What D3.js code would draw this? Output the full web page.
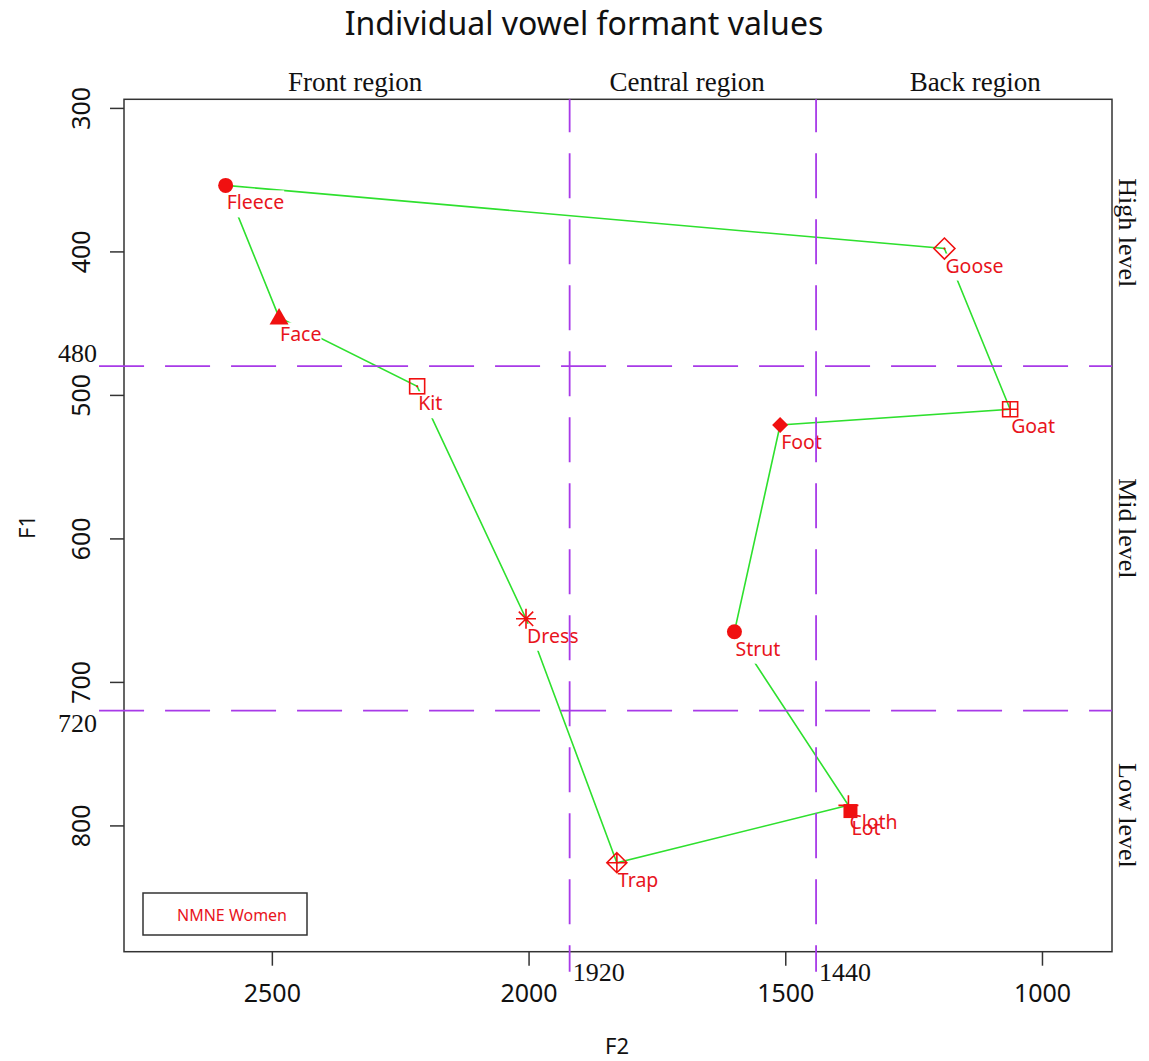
<!DOCTYPE html>
<html><head><meta charset="utf-8">
<script src="https://cdn.jsdelivr.net/npm/d3@7"></script>
<style>body{margin:0;background:#fff}</style>
</head><body>
<svg id="chart" width="1149" height="1061"></svg>
<script>
// ---- data ----
const vowels   = ["Fleece","Face","Kit","Dress","Trap","Cloth","Lot","Strut","Foot","Goat","Goose"];
const f2Values = [2590, 2486, 2217, 2005, 1828, 1377, 1373, 1599, 1510, 1062, 1190];
const f1Values = [354, 446, 494, 656, 826, 786, 790, 665, 521, 510, 398];
const markers  = ["circle","triangle","squareDot","asterisk","diamondPlus","plus","squareFilled","circle","diamondFilled","squarePlus","diamondDot"];
const pathOrder = ["Fleece","Face","Kit","Dress","Trap","Cloth","Strut","Foot","Goat","Goose","Fleece"];
const xTicks = [2500, 2000, 1500, 1000];
const yTicks = [300, 400, 500, 600, 700, 800];
const f2Bounds = [1920, 1440];
const f1Bounds = [480, 720];
const regionNames = ["Front region","Central region","Back region"];
const regionF2 = [2338, 1691, 1130];
const levelNames = ["High level","Mid level","Low level"];
const levelF1 = [387, 593, 793];
const legendLabel = "NMNE Women";
const titleText = "Individual vowel formant values";

// ---- setup ----
const svg = d3.select("#chart");
const L = 124, R = 1112, T = 99.3, B = 951.7;
const x = d3.scaleLinear().domain([2788, 863.6]).range([L, R]);
const y = d3.scaleLinear().domain([294, 888]).range([T, B]);
const RED = "#f01010", TXTRED = "#e8141c", GREEN = "#2ee02e", PURPLE = "#a83ae8";
const SANS = "'Noto Sans', 'Open Sans', sans-serif";
const SERIF = "'Liberation Serif', 'DejaVu Serif', serif";

const pts = vowels.map((v,i)=>({name:v, f2:f2Values[i], f1:f1Values[i], m:markers[i]}));
const byName = Object.fromEntries(pts.map(p=>[p.name,p]));

// title
svg.append("text").attr("x", 584).attr("y", 35).attr("text-anchor","middle")
  .style("font-family", SANS).style("font-size","32px").attr("fill","#111").text(titleText);

// axes
const xAxis = svg.append("g").attr("transform",`translate(0,${B})`)
  .call(d3.axisBottom(x).tickValues(xTicks).tickSize(14).tickFormat(d3.format("d")));
xAxis.select(".domain").remove();
xAxis.selectAll(".tick line").attr("stroke","#333").attr("stroke-width",1.5);
xAxis.selectAll(".tick text").attr("y",50).attr("dy",0)
  .style("font-family",SANS).style("font-size","25px").attr("fill","#111");

const yAxis = svg.append("g").attr("transform",`translate(${L},0)`)
  .call(d3.axisLeft(y).tickValues(yTicks).tickSize(14).tickFormat(d3.format("d")));
yAxis.select(".domain").remove();
yAxis.selectAll(".tick line").attr("stroke","#333").attr("stroke-width",1.5);
yAxis.selectAll(".tick text").attr("x",0).attr("y",-34).attr("dy",0)
  .attr("transform","rotate(-90)").attr("text-anchor","middle")
  .style("font-family",SANS).style("font-size","25px").attr("fill","#111");

// frame
svg.append("rect").attr("x",L).attr("y",T).attr("width",R-L).attr("height",B-T)
  .attr("fill","none").attr("stroke","#333").attr("stroke-width",1.5);

// axis titles
svg.append("text").attr("x",617).attr("y",1054).attr("text-anchor","middle")
  .style("font-family",SANS).style("font-size","22px").attr("fill","#111").text("F2");
svg.append("text").attr("transform","translate(35,527) rotate(-90)").attr("text-anchor","middle")
  .style("font-family",SANS).style("font-size","22px").attr("fill","#111").text("F1");

// polygon line
const line = d3.line().x(d=>x(d.f2)).y(d=>y(d.f1));
svg.append("path").datum(pathOrder.map(n=>byName[n])).attr("d",line)
  .attr("fill","none").attr("stroke",GREEN).attr("stroke-width",1.6);

// labels with white backgrounds (gap in lines)
const labelG = svg.append("g");
const labels = labelG.selectAll("text").data(pts).join("text")
  .attr("x",d=>x(d.f2)+1).attr("y",d=>y(d.f1)+24)
  .style("font-family",SANS).style("font-size","19.5px").attr("fill",TXTRED)
  .text(d=>d.name);
const bgG = svg.insert("g", function(){return labelG.node();});
labels.each(function(d){
  const b = this.getBBox();
  bgG.append("rect").attr("x",b.x).attr("y",b.y+2).attr("width",b.width).attr("height",b.height)
    .attr("fill","#fff");
});

// markers
const mk = svg.append("g");
pts.forEach(p=>{
  const g = mk.append("g").attr("transform",`translate(${x(p.f2)},${y(p.f1)})`);
  const st = {stroke:RED,"stroke-width":1.6,fill:"none"};
  const setS = sel=>{for(const k in st) sel.attr(k,st[k]); return sel;};
  switch(p.m){
    case "circle": g.append("circle").attr("r",7.5).attr("fill",RED); break;
    case "triangle": g.append("path").attr("d","M0,-9.5L9.5,7L-9.5,7Z").attr("fill",RED); break;
    case "squareDot":
      setS(g.append("rect").attr("x",-7.5).attr("y",-7.5).attr("width",15).attr("height",15));
      g.append("circle").attr("r",1.1).attr("fill",RED); break;
    case "squareFilled": g.append("rect").attr("x",-7).attr("y",-7).attr("width",14).attr("height",14).attr("fill",RED); break;
    case "squarePlus":
      setS(g.append("path").attr("d","M-7.5,-7.5H7.5V7.5H-7.5ZM0,-7.5V7.5M-7.5,0H7.5")); break;
    case "asterisk":
      setS(g.append("path").attr("d","M0,-10V10M-10,0H10M-7.2,-7.2L7.2,7.2M-7.2,7.2L7.2,-7.2")); break;
    case "plus":
      setS(g.append("path").attr("d","M0,-10V10M-10,0H10")); break;
    case "diamondPlus":
      setS(g.append("path").attr("d","M0,-10L10,0L0,10L-10,0ZM0,-10V10M-10,0H10")); break;
    case "diamondFilled": g.append("path").attr("d","M0,-8L8,0L0,8L-8,0Z").attr("fill",RED); break;
    case "diamondDot":
      setS(g.append("path").attr("d","M0,-10.5L10.5,0L0,10.5L-10.5,0Z"));
      g.append("circle").attr("r",1.1).attr("fill",RED); break;
  }
});
labelG.raise();

// region boundary lines
const dashG = svg.append("g").attr("stroke",PURPLE).attr("stroke-width",1.8).attr("fill","none");
dashG.selectAll("line.v").data(f2Bounds).join("line").attr("class","v")
  .attr("x1",d=>x(d)).attr("x2",d=>x(d)).attr("y1",T).attr("y2",y(902))
  .attr("stroke-dasharray","45,21").attr("stroke-dashoffset",12);
dashG.selectAll("line.h").data(f1Bounds).join("line").attr("class","h")
  .attr("y1",d=>y(d)).attr("y2",d=>y(d)).attr("x1",x(2858)).attr("x2",R)
  .attr("stroke-dasharray","45,21").attr("stroke-dashoffset",55);

// boundary value labels
svg.selectAll("text.bv").data(f2Bounds).join("text").attr("class","bv")
  .attr("x",d=>x(d)+3).attr("y",981)
  .style("font-family",SERIF).style("font-size","26px").attr("fill","#111").text(d=>d);
svg.selectAll("text.bh").data(f1Bounds).join("text").attr("class","bh")
  .attr("x",58).attr("y",(d,i)=> i===0 ? y(d)-4 : y(d)+21)
  .style("font-family",SERIF).style("font-size","26px").attr("fill","#111").text(d=>d);

// region labels
svg.selectAll("text.rg").data(regionNames).join("text").attr("class","rg")
  .attr("x",(d,i)=>x(regionF2[i])).attr("y",91).attr("text-anchor","middle")
  .style("font-family",SERIF).style("font-size","27px").attr("fill","#111").text(d=>d);
svg.selectAll("text.lv").data(levelNames).join("text").attr("class","lv")
  .attr("transform",(d,i)=>`translate(1119,${y(levelF1[i])}) rotate(90)`).attr("text-anchor","middle")
  .style("font-family",SERIF).style("font-size","26px").attr("fill","#111").text(d=>d);

// legend
svg.append("rect").attr("x",143).attr("y",893).attr("width",164).attr("height",42)
  .attr("fill","#fff").attr("stroke","#333").attr("stroke-width",1.5);
svg.append("text").attr("x",177).attr("y",921)
  .style("font-family",SANS).style("font-size","16px").attr("fill",TXTRED).text(legendLabel);
</script>
</body></html>
